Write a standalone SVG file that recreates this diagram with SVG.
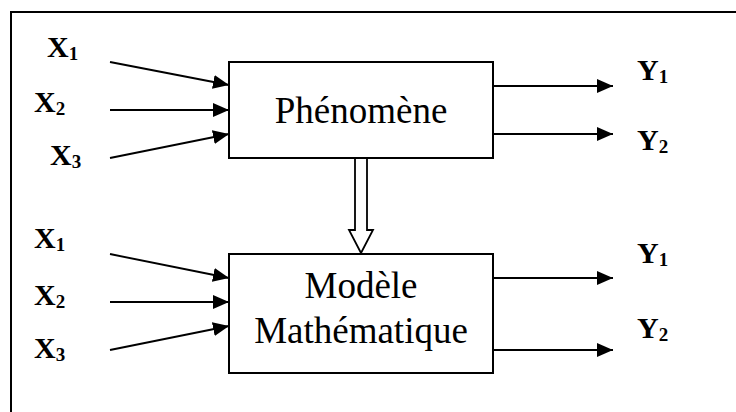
<svg xmlns="http://www.w3.org/2000/svg" width="736" height="412" viewBox="0 0 736 412">
<style>
.box{fill:#fff;stroke:#000;stroke-width:2}
.ln{stroke:#000;stroke-width:1.8;fill:none;marker-end:url(#ah)}
text{font-family:"Liberation Serif","Times New Roman",Times,"DejaVu Serif",serif;fill:#000}
.t{font-size:37px;text-anchor:middle}
.v{font-weight:bold;font-size:30px}
.s{font-size:19px}
</style>
<defs>
<marker id="ah" viewBox="0 0 16 14" refX="16" refY="7" markerWidth="16" markerHeight="14" markerUnits="userSpaceOnUse" orient="auto">
<path d="M0,0 L16,7 L0,14 Z" fill="#000"/>
</marker>
</defs>
<rect width="736" height="412" fill="#fff"/>
<path d="M11,412 V12 H736" fill="none" stroke="#000" stroke-width="2"/>
<g id="phenomene">
<rect class="box" x="229" y="62" width="264" height="96"/>
<text class="t" x="361" y="123" font-family="Liberation Serif, serif">Phénomène</text>
</g>
<g id="modele">
<rect class="box" x="229" y="254" width="264" height="119"/>
<text class="t" x="361" y="298">Modèle</text>
<text class="t" x="361" y="343">Mathématique</text>
</g>
<g id="labels">
<text class="v" x="47" y="57" font-size="26">X<tspan class="s" dy="3">1</tspan></text>
<text class="v" x="34" y="112">X<tspan class="s" dy="3">2</tspan></text>
<text class="v" x="50" y="165">X<tspan class="s" dy="3">3</tspan></text>
<text class="v" x="34" y="248">X<tspan class="s" dy="3">1</tspan></text>
<text class="v" x="34" y="305">X<tspan class="s" dy="3">2</tspan></text>
<text class="v" x="34" y="358">X<tspan class="s" dy="3">3</tspan></text>
<text class="v" x="637" y="80">Y<tspan class="s" dy="3">1</tspan></text>
<text class="v" x="637" y="150">Y<tspan class="s" dy="3">2</tspan></text>
<text class="v" x="637" y="263">Y<tspan class="s" dy="3">1</tspan></text>
<text class="v" x="637" y="338">Y<tspan class="s" dy="3">2</tspan></text>
</g>
<g id="connectors">
<line class="ln" x1="110" y1="62" x2="229" y2="85"/>
<line class="ln" x1="110" y1="110" x2="229" y2="110"/>
<line class="ln" x1="110" y1="158" x2="229" y2="134"/>
<line class="ln" x1="110" y1="254" x2="229" y2="278"/>
<line class="ln" x1="110" y1="302" x2="229" y2="302"/>
<line class="ln" x1="110" y1="350" x2="229" y2="326"/>
<line class="ln" x1="493" y1="86" x2="613" y2="86"/>
<line class="ln" x1="493" y1="134" x2="613" y2="134"/>
<line class="ln" x1="493" y1="278" x2="613" y2="278"/>
<line class="ln" x1="493" y1="350" x2="613" y2="350"/>
<polygon points="355,158 367,158 367,230 373,230 361,253 349,230 355,230" fill="#fff" stroke="#000" stroke-width="1.8"/>
</g>
</svg>
